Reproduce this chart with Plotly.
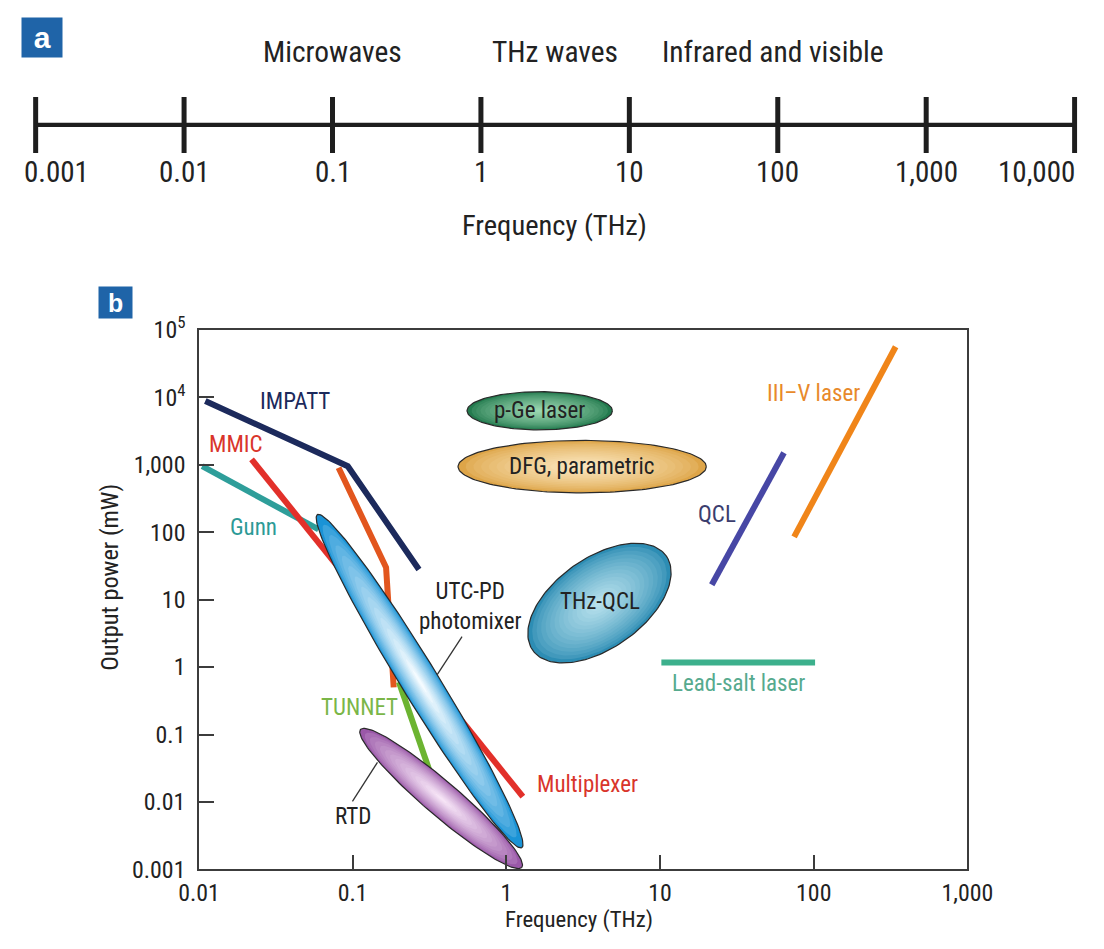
import numpy as np
import plotly.graph_objects as go

W, H = 1104, 949
FONT = "Liberation Sans Narrow, Arial Narrow, Roboto Condensed, Liberation Sans, Arial, sans-serif"

# ---------------- Panel a : frequency scale ----------------
band_ticks = [0.001, 0.01, 0.1, 1, 10, 100, 1000, 10000]
band_tick_labels = ["0.001", "0.01", "0.1", "1", "10", "100", "1,000", "10,000"]
band_names = ["Microwaves", "THz waves", "Infrared and visible"]
band_centres = [0.1, 3.16, 93]

# ---------------- Panel b : axes ----------------
freq_ticks = [0.01, 0.1, 1, 10, 100, 1000]
freq_tick_labels = ["0.01", "0.1", "1", "10", "100", "1,000"]
power_ticks = [0.001, 0.01, 0.1, 1, 10, 100, 1000, 1e4, 1e5]
power_tick_labels = ["0.001", "0.01", "0.1", "1", "10", "100", "1,000",
                     "10<sup>4</sup>", "10<sup>5</sup>"]

# ---------------- Panel b : source lines (THz, mW) ----------------
impatt_f = [0.011, 0.093, 0.27]
impatt_p = [8800, 950, 28]
mmic_f = [0.022, 1.28]
mmic_p = [1200, 0.012]
gunn_f = [0.0105, 0.06]
gunn_p = [950, 110]
mult_f = [0.081, 0.165, 0.185]
mult_p = [900, 30, 0.5]
tunnet_f = [0.2, 0.32]
tunnet_p = [0.6, 0.027]
qcl_f = [21.7, 64]
qcl_p = [16.6, 1500]
iiiv_f = [74.5, 341]
iiiv_p = [85, 56000]
leadsalt_f = [10.2, 102]
leadsalt_p = [1.17, 1.17]

# ---------------- Panel b : source regions (major-axis ends) ----------------
utc_f = [0.059, 1.26]
utc_p = [182, 0.0021]
rtd_f = [0.1125, 1.26]
rtd_p = [0.1186, 0.00107]
pge_f = [0.555, 4.9]
pge_p = [6300, 6300]
dfg_f = [0.485, 20]
dfg_p = [935, 935]
thzqcl_f = [1.48, 11.0]
thzqcl_p = [1.79, 44]

# ---------------- page placement (target pixel -> figure pixel) ----------------
OX, SX, OY, SY = 19.5, 0.9605, 17.0, 0.968
FS = (SX + SY) / 2


def fx(t):
    return (t - OX) / SX


def fy(t):
    return (t - OY) / SY


def px(t):
    return fx(t) / W


def py(t):
    return 1 - fy(t) / H


def fs(s):
    return s / FS


# panel b geometry
XR = [-2, 3]
YR = [-3, 5]
bx0, bx1 = fx(198), fx(969)
by_top, by_bot = fy(330), fy(870)
kx = (bx1 - bx0) / (XR[1] - XR[0])
ky = (by_bot - by_top) / (YR[1] - YR[0])
K = ky / kx

# panel a geometry
a_dec = 148.9 / SX
a_0 = fx(34.2)
PAD = 0.02
AXR = [-3 - PAD, 4 + PAD]
a_left = a_0 - PAD * a_dec
a_right = a_0 + (7 + PAD) * a_dec
ay0, ay1 = fy(97), fy(153)
aypad = (ay1 - ay0) * 0.05
ay0, ay1 = ay0 - aypad, ay1 + aypad

fig = go.Figure()


def hexrgb(h):
    h = h.lstrip("#")
    return np.array([int(h[i:i + 2], 16) for i in (0, 2, 4)], float)


def mix(c1, c2, t):
    c = hexrgb(c1) * (1 - t) + hexrgb(c2) * t
    return "rgb(%d,%d,%d)" % tuple(np.round(c).astype(int))


def ellipse(fs_, ps, ratio, scale=1.0, n=160):
    u = np.log10(fs_)
    v = np.log10(ps) * K
    cu, cv = u.mean(), v.mean()
    du, dv = (u[1] - u[0]) / 2, (v[1] - v[0]) / 2
    a = np.hypot(du, dv)
    ang = np.arctan2(dv, du)
    b = a * ratio
    t = np.linspace(0, 2 * np.pi, n)
    x = a * scale * np.cos(t)
    y = b * scale * np.sin(t)
    uu = cu + x * np.cos(ang) - y * np.sin(ang)
    vv = cv + x * np.sin(ang) + y * np.cos(ang)
    return 10 ** uu, 10 ** (vv / K)


def add_region(fs_, ps, ratio, edge, core, layers=16):
    for i in range(layers):
        t = i / (layers - 1)
        s = 1 - t * 0.93
        col = mix(edge, core, t ** 0.7)
        x, y = ellipse(fs_, ps, ratio, s)
        fig.add_trace(go.Scatter(
            x=x, y=y, mode="lines", fill="toself", fillcolor=col,
            line=dict(color="#2a2a2a" if i == 0 else col, width=1.2 if i == 0 else 0),
            hoverinfo="skip", xaxis="x", yaxis="y"))


def add_line(fs_, ps, color, width=6):
    fig.add_trace(go.Scatter(x=fs_, y=ps, mode="lines",
                             line=dict(color=color, width=width),
                             hoverinfo="skip", xaxis="x", yaxis="y"))


# ---- panel a traces ----
fig.add_trace(go.Scatter(x=[band_ticks[0], band_ticks[-1]], y=[0, 0], mode="lines",
                         line=dict(color="#1e1e1e", width=4.2), xaxis="x2", yaxis="y2",
                         hoverinfo="skip"))
tx, ty = [], []
for v in band_ticks:
    tx += [v, v, None]
    ty += [-1, 1, None]
fig.add_trace(go.Scatter(x=tx, y=ty, mode="lines", line=dict(color="#1e1e1e", width=5),
                         xaxis="x2", yaxis="y2", hoverinfo="skip"))

# ---- panel b traces (back to front) ----
add_line(gunn_f, gunn_p, "#2e9e9a")
add_line(mmic_f, mmic_p, "#e2302a")
add_line(mult_f, mult_p, "#e2561e")
add_line(impatt_f, impatt_p, "#1c2a5c")
add_line(tunnet_f, tunnet_p, "#6cb431")
add_line(qcl_f, qcl_p, "#4747a5")
add_line(iiiv_f, iiiv_p, "#f08519")
add_line(leadsalt_f, leadsalt_p, "#3cb08c")

add_region(pge_f, pge_p, 0.26, "#237a4e", "#9ad6b0")
add_region(dfg_f, dfg_p, 0.209, "#dea548", "#fae6bd")
add_region(thzqcl_f, thzqcl_p, 0.55, "#2d8db4", "#b6e0ec")
add_region(rtd_f, rtd_p, 0.16, "#9a58a8", "#f6e4f6")
add_region(utc_f, utc_p, 0.095, "#1a93d6", "#f4fbff")

# leader lines
fig.add_trace(go.Scatter(x=[0.515, 0.355], y=[2.83, 0.77], mode="lines",
                         line=dict(color="#333333", width=1.3), hoverinfo="skip"))
fig.add_trace(go.Scatter(x=[0.145, 0.0997], y=[0.0385, 0.0102], mode="lines",
                         line=dict(color="#333333", width=1.3), hoverinfo="skip"))

ann = []
# panel a tick labels
n_t = len(band_ticks)
for i, (v, lab) in enumerate(zip(band_ticks, band_tick_labels)):
    d = dict(x=np.log10(v), y=py(172), xref="x2", yref="paper", text=lab,
             showarrow=False, xanchor="center", yanchor="middle",
             font=dict(size=fs(28), color="#222222", family=FONT))
    if i == 0:
        d.update(xanchor="left", xshift=-(a_0 - 1.5))
    elif i == n_t - 1:
        d.update(xanchor="right", xshift=(W - 1.5) - (a_0 + 7 * a_dec))
    ann.append(d)
for c, name in zip(band_centres, band_names):
    ann.append(dict(x=np.log10(c), y=py(52), xref="x2", yref="paper", text=name,
                    showarrow=False, xanchor="center", yanchor="middle",
                    font=dict(size=fs(28.4), color="#222222", family=FONT)))
ann.append(dict(x=px(555), y=py(226), xref="paper", yref="paper", text="Frequency (THz)",
                showarrow=False, xanchor="center", yanchor="middle",
                font=dict(size=fs(27.5), color="#222222", family=FONT)))

# panel letters
ann.append(dict(x=0, y=1, xref="paper", yref="paper", text="<b>a</b>",
                showarrow=False, xanchor="left", yanchor="top", width=fs(37), height=fs(36),
                bgcolor="#1f64a8", font=dict(size=fs(29), color="white", family="Arial, Liberation Sans")))
ann.append(dict(x=px(97), y=py(286), xref="paper", yref="paper", text="<b>b</b>",
                showarrow=False, xanchor="left", yanchor="top", width=fs(30), height=fs(28),
                bgcolor="#1f64a8", font=dict(size=fs(24), color="white", family="Arial, Liberation Sans")))

# axis titles panel b
ann.append(dict(x=px(108), y=py(578), xref="paper", yref="paper", text="Output power (mW)",
                textangle=-90, showarrow=False, xanchor="center", yanchor="middle",
                font=dict(size=fs(23.5), color="#222222", family=FONT)))
ann.append(dict(x=px(579), y=0, xref="paper", yref="paper", text="Frequency (THz)",
                showarrow=False, xanchor="center", yanchor="bottom",
                font=dict(size=fs(22), color="#222222", family=FONT)))

# series labels
labels = [
    ("IMPATT", 0.042, 8500, "#1c2a5c"),
    ("MMIC", 0.0174, 2000, "#d9352b"),
    ("Gunn", 0.0227, 117, "#2c9a96"),
    ("UTC-PD<br>photomixer", 0.58, 7.9, "#222222"),
    ("TUNNET", 0.111, 0.25, "#7ab648"),
    ("RTD", 0.101, 0.0061, "#222222"),
    ("Multiplexer", 3.38, 0.018, "#d9352b"),
    ("p-Ge laser", 1.65, 6300, "#222222"),
    ("DFG, parametric", 3.1, 935, "#222222"),
    ("THz-QCL", 4.05, 9.5, "#222222"),
    ("QCL", 23.5, 182, "#3b3d6e"),
    ("III\u2013V laser", 100, 11200, "#e8892b"),
    ("Lead-salt laser", 32.2, 0.57, "#56aa8e"),
]
for txt, f, p, col in labels:
    ann.append(dict(x=np.log10(f), y=np.log10(p), xref="x", yref="y", text=txt,
                    showarrow=False, xanchor="center", yanchor="middle",
                    font=dict(size=fs(22.2), color=col, family=FONT)))

axis_common = dict(showgrid=False, zeroline=False, showline=True, mirror=True,
                   linecolor="#3c3c3c", linewidth=1.5, ticks="inside", ticklen=15,
                   tickwidth=1.5, tickcolor="#3c3c3c",
                   tickfont=dict(size=fs(23), color="#222222", family=FONT))

fig.update_layout(
    width=W, height=H, margin=dict(l=0, r=0, t=0, b=0),
    paper_bgcolor="white", plot_bgcolor="white", showlegend=False,
    xaxis=dict(type="log", range=XR, domain=[bx0 / W, bx1 / W], anchor="y",
               tickvals=freq_ticks, ticktext=freq_tick_labels, ticklabelstandoff=1,
               **axis_common),
    yaxis=dict(type="log", range=YR, domain=[1 - by_bot / H, 1 - by_top / H], anchor="x",
               tickvals=power_ticks, ticktext=power_tick_labels, ticklabelstandoff=7,
               **axis_common),
    xaxis2=dict(type="log", range=AXR, domain=[max(a_left, 0) / W, min(a_right, W) / W],
                anchor="y2", visible=False),
    yaxis2=dict(range=[-1.1, 1.1], domain=[1 - ay1 / H, 1 - ay0 / H], anchor="x2",
                visible=False),
    annotations=ann,
)

fig.write_html("out.html")
